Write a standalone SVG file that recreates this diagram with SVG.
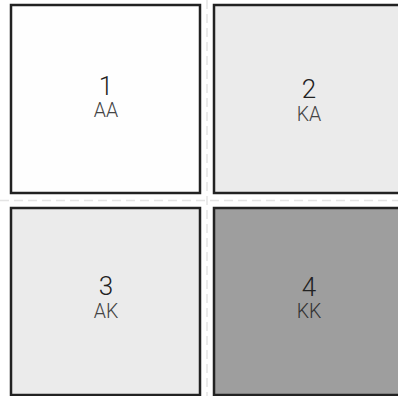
<svg xmlns="http://www.w3.org/2000/svg" width="398" height="396" viewBox="0 0 398 396">
<style>
.box{stroke:#222;stroke-width:2.5}
.num{font-family:Roboto,"Liberation Sans",sans-serif;font-weight:300;font-size:26px;fill:#222;text-anchor:middle}
.lab{font-family:Roboto,"Liberation Sans",sans-serif;font-weight:300;font-size:19.5px;fill:#444;text-anchor:middle}
.guide{stroke:#e4e4e4;stroke-width:1.5;stroke-dasharray:9 5;fill:none}
</style>
<rect width="398" height="396" fill="#fff"/>
<g id="connectors">
<line class="guide" x1="0" y1="200.5" x2="398" y2="200.5"/>
<line class="guide" x1="207" y1="0" x2="207" y2="396"/>
</g>
<g id="node1">
<rect class="box" x="11" y="5" width="189" height="188" fill="#fefefe"/>
<text class="num" x="106" y="95">1</text>
<text class="lab" x="106" y="117">AA</text>
</g>
<g id="node2">
<rect class="box" x="214" y="5" width="190" height="188" fill="#ebebeb"/>
<text class="num" x="309" y="98">2</text>
<text class="lab" x="309" y="121">KA</text>
</g>
<g id="node3">
<rect class="box" x="11" y="208" width="189" height="187" fill="#ebebeb"/>
<text class="num" x="106" y="295">3</text>
<text class="lab" x="106" y="318">AK</text>
</g>
<g id="node4">
<rect class="box" x="214" y="208" width="190" height="187" fill="#9e9e9e"/>
<text class="num" x="309" y="296">4</text>
<text class="lab" x="309" y="318" style="fill:#333">KK</text>
</g>
</svg>
